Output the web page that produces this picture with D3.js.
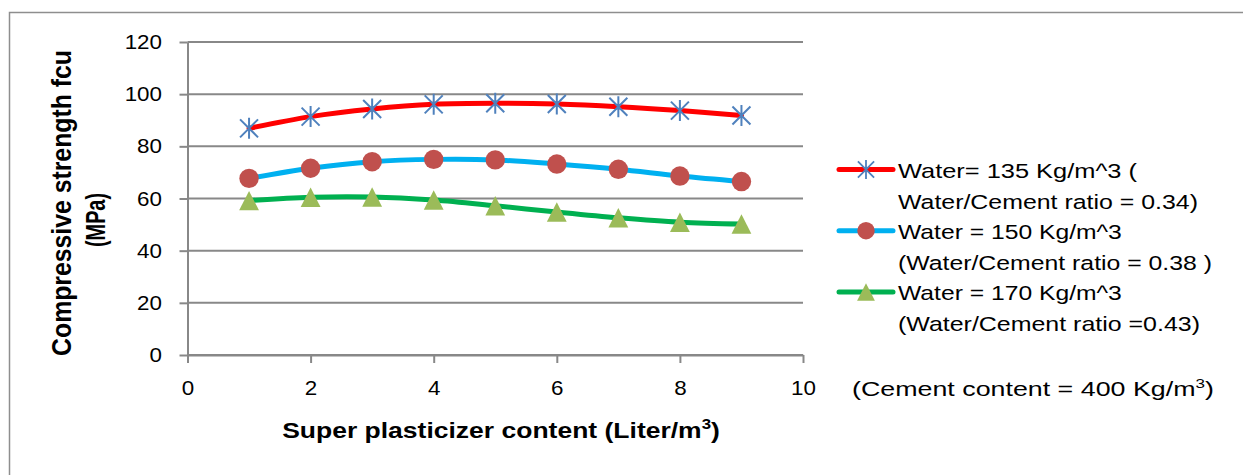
<!DOCTYPE html>
<html>
<head>
<meta charset="utf-8">
<script src="https://cdn.jsdelivr.net/npm/d3@7"></script>
<style>
  body { margin: 0; background: #fff; }
  svg { display: block; font-family: "Liberation Sans", Arial, sans-serif; }
</style>
</head>
<body>
<div id="chart"></div>
<script>
// chart data
var xValues = [1, 2, 3, 4, 5, 6, 7, 8, 9];
var water135 = [86.9, 91.4, 94.3, 96.1, 96.5, 96.2, 95.2, 93.7, 91.8];
var water150 = [67.7, 71.6, 74.1, 75.0, 74.8, 73.2, 71.2, 68.6, 66.5];
var water170 = [59.2, 60.5, 60.6, 59.4, 57.2, 54.8, 52.6, 50.9, 50.2];
var xTicks = [0, 2, 4, 6, 8, 10];
var yTicks = [0, 20, 40, 60, 80, 100, 120];
var legendLabels = [
  ["Water= 135 Kg/m^3  (", "Water/Cement ratio = 0.34)"],
  ["Water = 150 Kg/m^3", "(Water/Cement ratio = 0.38 )"],
  ["Water = 170 Kg/m^3", "(Water/Cement ratio =0.43)"]
];

var width = 1243, height = 475;
var gridColor = "#888888";
var stretch = 1.12; // text in the picture is a bit wider than normal

var svg = d3.select("#chart").append("svg")
  .attr("width", width)
  .attr("height", height);

// outer frame (right and bottom edges run off the picture)
svg.append("rect")
  .attr("x", 9.5).attr("y", 12.5)
  .attr("width", 1400).attr("height", 600)
  .attr("fill", "none")
  .attr("stroke", "#8e8e8e")
  .attr("stroke-width", 1.5);

var xScale = d3.scaleLinear().domain([0, 10]).range([187.5, 803]);
var yScale = d3.scaleLinear().domain([0, 120]).range([355, 42]);

// horizontal gridlines
svg.append("g").selectAll("line")
  .data(yTicks)
  .enter().append("line")
  .attr("x1", xScale(0)).attr("x2", xScale(10))
  .attr("y1", function(d) { return yScale(d); })
  .attr("y2", function(d) { return yScale(d); })
  .attr("stroke", gridColor)
  .attr("stroke-width", 2);

// y axis
var yAxis = svg.append("g")
  .attr("transform", "translate(" + xScale(0) + ",0)")
  .call(d3.axisLeft(yScale).tickValues(yTicks).tickSize(8).tickSizeOuter(0));
yAxis.selectAll("text")
  .attr("font-size", 20)
  .attr("font-family", "Liberation Sans, Arial, sans-serif")
  .attr("fill", "#000")
  .attr("x", -25.5 / stretch)
  .attr("dy", "0.33em")
  .attr("transform", "scale(" + stretch + ",1)");

// x axis
var xAxis = svg.append("g")
  .attr("transform", "translate(0," + yScale(0) + ")")
  .call(d3.axisBottom(xScale).tickValues(xTicks).tickSize(8).tickSizeOuter(0));
xAxis.selectAll("text")
  .attr("font-size", 20)
  .attr("font-family", "Liberation Sans, Arial, sans-serif")
  .attr("fill", "#000")
  .attr("y", 40)
  .attr("dy", 0)
  .attr("transform", "scale(" + stretch + ",1)");
xAxis.selectAll(".tick text").attr("x", 0);

svg.selectAll(".domain, .tick line")
  .attr("stroke", gridColor)
  .attr("stroke-width", 2);

// smooth lines
var line = d3.line()
  .x(function(d, i) { return xScale(xValues[i]); })
  .y(function(d) { return yScale(d); })
  .curve(d3.curveCatmullRom.alpha(0.5));

var series = [
  { values: water135, color: "#ff0000", marker: "star" },
  { values: water150, color: "#00b0f0", marker: "circle" },
  { values: water170, color: "#00b050", marker: "triangle" }
];

function drawMarker(g, type, s) {
  if (type === "star") {
    g.append("path")
      .attr("d", "M-9,-9L9,9M-9,9L9,-9M0,-10.5L0,10.5")
      .attr("transform", "scale(" + s + ")")
      .attr("stroke", "#4f81bd")
      .attr("stroke-width", 2)
      .attr("fill", "none");
  } else if (type === "circle") {
    g.append("circle")
      .attr("r", 9.7 * s)
      .attr("fill", "#c0504d");
  } else {
    g.append("path")
      .attr("d", "M0,-9.7L9.9,9.7L-9.9,9.7Z")
      .attr("transform", "scale(" + s + ")")
      .attr("fill", "#9bbb59");
  }
}

series.forEach(function(s) {
  svg.append("path")
    .datum(s.values)
    .attr("d", line)
    .attr("fill", "none")
    .attr("stroke", s.color)
    .attr("stroke-width", 5)
    .attr("stroke-linecap", "round")
    .attr("stroke-linejoin", "round");
});

series.forEach(function(s) {
  svg.append("g").selectAll("g")
    .data(s.values)
    .enter().append("g")
    .attr("transform", function(d, i) {
      return "translate(" + xScale(xValues[i]) + "," + yScale(d) + ")";
    })
    .each(function() { drawMarker(d3.select(this), s.marker, 1); });
});

// text that is squeezed or stretched to the width it has in the picture
function fitText(parent, build, x, y, w, opts) {
  opts = opts || {};
  var g = parent.append("g");
  var t = g.append("text")
    .attr("font-size", opts.size || 18)
    .attr("font-weight", opts.weight || "normal")
    .attr("text-anchor", opts.anchor || "start")
    .attr("fill", "#000");
  build(t);
  var nat = t.node().getComputedTextLength();
  var k = w / nat;
  g.attr("transform", "translate(" + x + "," + y + ")" +
    (opts.rotate ? " rotate(" + opts.rotate + ")" : "") +
    " scale(" + k + ",1)");
  return g;
}

// legend
var legendTop = 178, rowGap = 30.6;
var legendWidths = [[239, 300], [224, 314], [224, 302]];
series.forEach(function(s, i) {
  var base = legendTop + i * 2 * rowGap;
  var ly = base - 8.5;
  svg.append("line")
    .attr("x1", 839).attr("x2", 893)
    .attr("y1", ly).attr("y2", ly)
    .attr("stroke", s.color)
    .attr("stroke-width", 5)
    .attr("stroke-linecap", "round");
  var mg = svg.append("g").attr("transform", "translate(866," + ly + ")");
  drawMarker(mg, s.marker, 0.9);
  legendLabels[i].forEach(function(txt, j) {
    fitText(svg, function(t) { t.text(txt); }, 898, base + j * rowGap, legendWidths[i][j], { size: 20.5 });
  });
});

// note below the legend
fitText(svg, function(t) {
  t.append("tspan").text("(Cement content = 400 Kg/m");
  t.append("tspan").attr("font-size", 13).attr("dy", -8).text("3");
  t.append("tspan").attr("dy", 8).text(")");
}, 852, 396, 362, { size: 20.5 });

// x axis title
fitText(svg, function(t) {
  t.append("tspan").text("Super plasticizer content (Liter/m");
  t.append("tspan").attr("font-size", 14).attr("dy", -9).text("3");
  t.append("tspan").attr("dy", 9).text(")");
}, 501, 438, 438, { size: 22, weight: "bold", anchor: "middle" });

// y axis title, two lines
fitText(svg, function(t) { t.text("Compressive strength fcu"); },
  71, 203, 306, { size: 27, weight: "bold", anchor: "middle", rotate: -90 });
fitText(svg, function(t) { t.text("(MPa)"); },
  105, 220, 54, { size: 27, weight: "bold", anchor: "middle", rotate: -90 });
</script>
</body>
</html>
